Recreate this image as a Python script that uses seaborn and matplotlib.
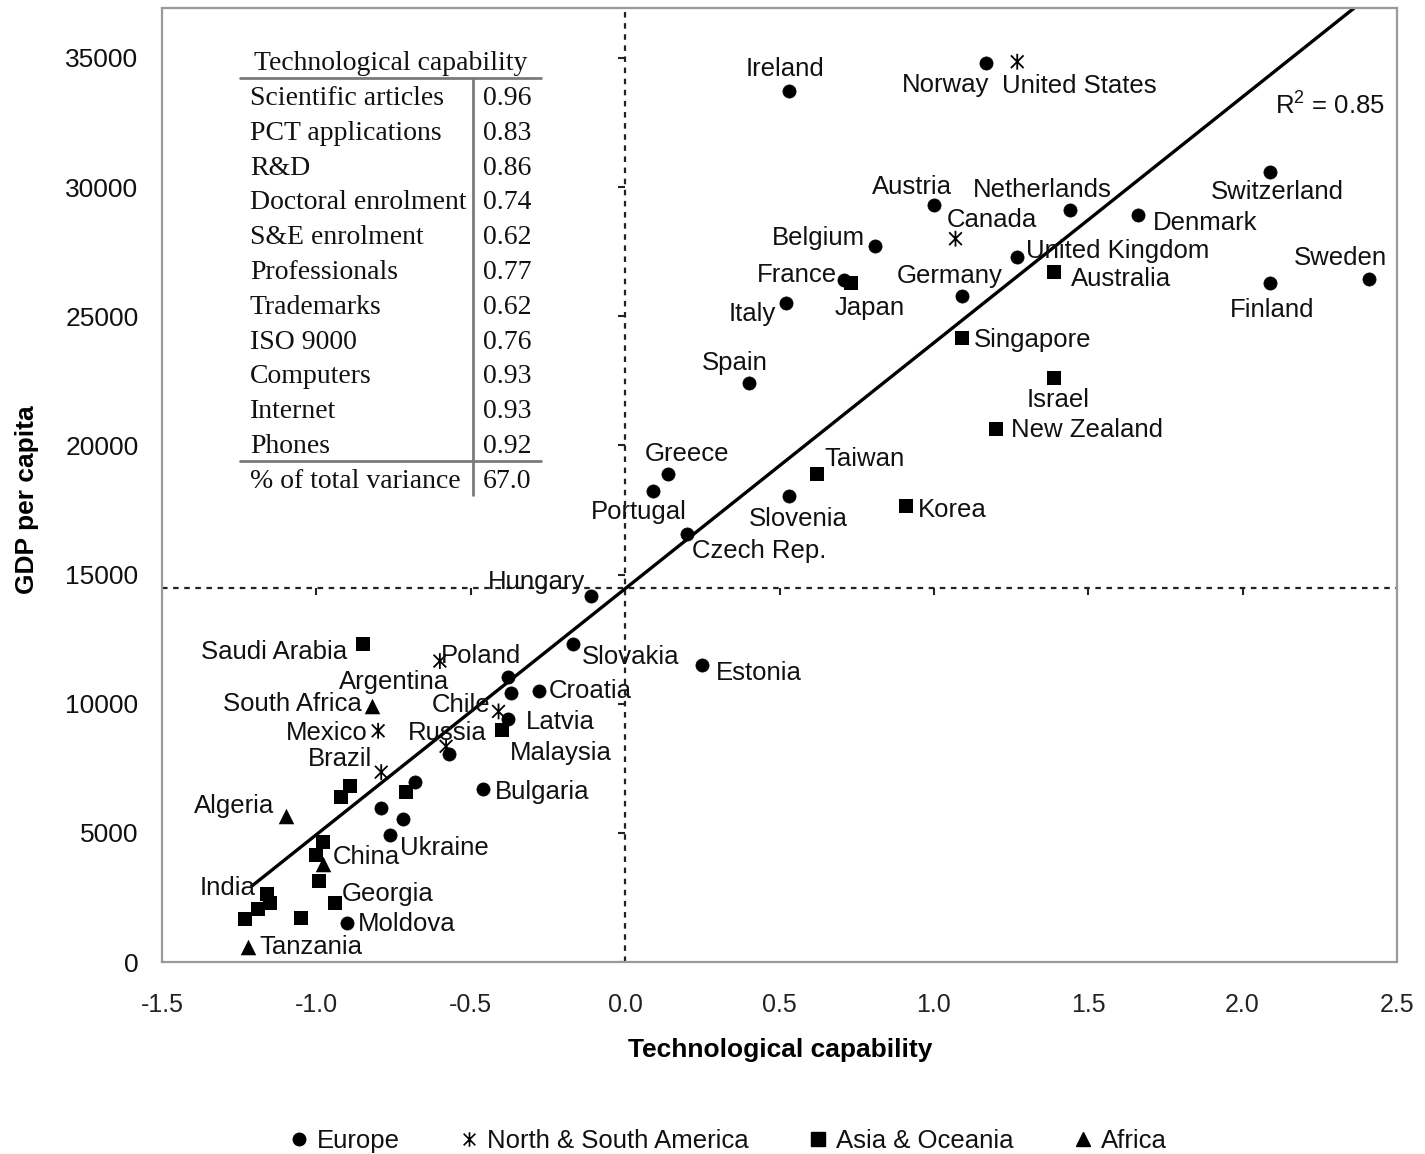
import numpy as np
import pandas as pd
import matplotlib
matplotlib.use("Agg")
import matplotlib.pyplot as plt
from matplotlib.lines import Line2D
from matplotlib.path import Path
import seaborn as sns

# ---------------------------------------------------------------- data
europe_names = ["Ireland", "Norway", "Austria", "Netherlands", "Denmark", "Switzerland",
                "Belgium", "United Kingdom", "France", "Germany", "Italy", "Finland",
                "Sweden", "Spain", "Greece", "Portugal", "Slovenia", "Czech Rep.",
                "Hungary", "Slovakia", "Estonia", "Poland", "Croatia", "", "Latvia",
                "Russia", "Bulgaria", "", "", "", "Ukraine", "Moldova"]
europe_tech = [0.53, 1.17, 1.00, 1.44, 1.66, 2.09, 0.81, 1.27, 0.71, 1.09, 0.52, 2.09,
               2.41, 0.40, 0.14, 0.09, 0.53, 0.20, -0.11, -0.17, 0.25, -0.38, -0.28,
               -0.37, -0.38, -0.57, -0.46, -0.68, -0.79, -0.72, -0.76, -0.90]
europe_gdp = [33700, 34800, 29300, 29100, 28900, 30600, 27700, 27300, 26400, 25800,
              25500, 26300, 26450, 22400, 18900, 18250, 18050, 16550, 14150, 12300,
              11500, 11050, 10500, 10400, 9400, 8050, 6700, 6950, 5950, 5550, 4900, 1500]

america_names = ["United States", "Canada", "Argentina", "Chile", "Mexico", "Brazil", ""]
america_tech = [1.27, 1.07, -0.60, -0.41, -0.80, -0.79, -0.58]
america_gdp = [34850, 28000, 11650, 9700, 8950, 7350, 8350]

asia_names = ["Japan", "Australia", "Singapore", "Israel", "New Zealand", "Taiwan",
              "Korea", "Saudi Arabia", "Malaysia", "", "", "", "China", "", "",
              "Georgia", "", "India", "", "", ""]
asia_tech = [0.73, 1.39, 1.09, 1.39, 1.20, 0.62, 0.91, -0.85, -0.40, -0.89, -0.92,
             -0.71, -0.98, -1.00, -0.99, -0.94, -1.05, -1.16, -1.15, -1.19, -1.23]
asia_gdp = [26300, 26700, 24150, 22600, 20650, 18900, 17650, 12300, 9000, 6800, 6400,
            6600, 4650, 4150, 3150, 2300, 1700, 2650, 2300, 2050, 1650]

africa_names = ["South Africa", "Algeria", "", "Tanzania"]
africa_tech = [-0.82, -1.10, -0.98, -1.22]
africa_gdp = [9900, 5650, 3800, 600]

region_names = ["Europe", "North & South America", "Asia & Oceania", "Africa"]

# linear fit of GDP on technological capability
fit_intercept = 14450
fit_slope = 9520
fit_r2 = 0.85
gdp_mean = 14480

x_ticks = [-1.5, -1.0, -0.5, 0.0, 0.5, 1.0, 1.5, 2.0, 2.5]
y_ticks = [0, 5000, 10000, 15000, 20000, 25000, 30000, 35000]

table_items = ["Scientific articles", "PCT applications", "R&D", "Doctoral enrolment",
               "S&E enrolment", "Professionals", "Trademarks", "ISO 9000",
               "Computers", "Internet", "Phones"]
table_loadings = ["0.96", "0.83", "0.86", "0.74", "0.62", "0.77", "0.62", "0.76",
                  "0.93", "0.93", "0.92"]
variance_label = "% of total variance"
variance_value = "67.0"

df = pd.concat([
    pd.DataFrame({"country": europe_names, "tech": europe_tech, "gdp": europe_gdp,
                  "region": region_names[0]}),
    pd.DataFrame({"country": america_names, "tech": america_tech, "gdp": america_gdp,
                  "region": region_names[1]}),
    pd.DataFrame({"country": asia_names, "tech": asia_tech, "gdp": asia_gdp,
                  "region": region_names[2]}),
    pd.DataFrame({"country": africa_names, "tech": africa_tech, "gdp": africa_gdp,
                  "region": region_names[3]}),
], ignore_index=True)

# ---------------------------------------------------------------- style
sns.set_theme(style="white")
plt.rcParams["font.family"] = ["Liberation Sans", "DejaVu Sans"]
plt.rcParams["mathtext.fontset"] = "custom"
plt.rcParams["mathtext.rm"] = "Liberation Sans"
plt.rcParams["mathtext.it"] = "Liberation Sans:italic"

W, H = 1425, 1154
fig = plt.figure(figsize=(W / 100, H / 100), dpi=100)
ax = fig.add_axes([162 / W, 1 - 962 / H, (1397 - 162) / W, (962 - 8) / H])

star = Path([(0, -1), (0, 1), (-0.8, -0.8), (0.8, 0.8), (-0.8, 0.8), (0.8, -0.8)],
            [Path.MOVETO, Path.LINETO, Path.MOVETO, Path.LINETO, Path.MOVETO, Path.LINETO])

marker_style = {
    "Europe": dict(marker="o", s=90, color="black", edgecolor="black", linewidth=0.5),
    "North & South America": dict(marker=star, s=130, facecolor="none",
                                  edgecolor="black", linewidth=1.3),
    "Asia & Oceania": dict(marker="s", s=115, color="black", edgecolor="black", linewidth=0),
    "Africa": dict(marker="^", s=125, color="black", edgecolor="black", linewidth=0),
}

# regression line
xfit = np.array([-1.21, 2.6])
ax.plot(xfit, fit_intercept + fit_slope * xfit, color="black", lw=2.4, zorder=2)

for reg in region_names:
    sns.scatterplot(data=df[df.region == reg], x="tech", y="gdp", ax=ax, zorder=3,
                    legend=False, **marker_style[reg])

# axes crossing at (0, mean GDP)
ax.axvline(0, color="#222222", lw=1.6, ls=(0, (2.5, 2.5)), zorder=1)
ax.axhline(gdp_mean, color="#222222", lw=1.6, ls=(0, (2.5, 2.5)), zorder=1)
ax.plot(x_ticks, [gdp_mean] * len(x_ticks), ls="none", marker=3, ms=5,
        mew=1.5, color="#222222", zorder=1)
ax.plot([0] * len(y_ticks), y_ticks, ls="none", marker=0, ms=5,
        mew=1.5, color="#222222", zorder=1)

ax.set_xlim(-1.5, 2.5)
ax.set_ylim(0, 36930)
ax.set_xticks(x_ticks)
ax.set_xticklabels([f"{v:.1f}" for v in x_ticks])
ax.set_yticks(y_ticks)
ax.set_yticklabels([str(v) for v in y_ticks])
ax.tick_params(axis="x", length=0, pad=22, labelsize=18, labelcolor="#222222")
ax.tick_params(axis="y", length=0, pad=17, labelsize=19, labelcolor="#111111")
for sp in ax.spines.values():
    sp.set_color("#9a9a9a")
    sp.set_linewidth(1.6)

ax.set_xlabel("Technological capability", fontsize=19, fontweight="bold", color="black")
ax.set_ylabel("GDP per capita", fontsize=19, fontweight="bold", color="black")
ax.xaxis.set_label_coords((780 - 162) / 1235, (962 - 1038) / 954)
ax.yaxis.set_label_coords((39 - 162) / 1235, (962 - 500) / 954)

# country labels: offset in pixels (dx, dy downward) and horizontal alignment
label_pos = {
    "Ireland": (-4, -24, "center"), "Norway": (3, 20, "right"),
    "United States": (-15, 22, "left"), "Austria": (-22, -20, "center"),
    "Netherlands": (-27, -22, "center"), "Canada": (36, -21, "center"),
    "Switzerland": (7, 18, "center"), "Denmark": (15, 6, "left"),
    "Belgium": (-10, -10, "right"), "United Kingdom": (9, -8, "left"),
    "France": (-7, -7, "right"), "Germany": (-12, -22, "center"),
    "Australia": (17, 5, "left"), "Sweden": (-29, -23, "center"),
    "Finland": (2, 25, "center"), "Italy": (-10, 9, "right"),
    "Japan": (19, 23, "center"), "Singapore": (12, 0, "left"),
    "Spain": (-14, -22, "center"), "Israel": (4, 20, "center"),
    "New Zealand": (15, -1, "left"), "Greece": (19, -22, "center"),
    "Taiwan": (8, -17, "left"), "Portugal": (-14, 19, "center"),
    "Slovenia": (10, 21, "center"), "Korea": (12, 2, "left"),
    "Czech Rep.": (5, 15, "left"), "Hungary": (-6, -16, "right"),
    "Saudi Arabia": (-16, 6, "right"), "Poland": (-27, -23, "center"),
    "Slovakia": (9, 11, "left"), "Estonia": (14, 6, "left"),
    "Argentina": (-46, 19, "center"), "Croatia": (10, -2, "left"),
    "South Africa": (-10, -4, "right"), "Chile": (-8, -8, "right"),
    "Latvia": (18, 1, "left"), "Mexico": (-11, 0, "right"),
    "Russia": (-2, -23, "center"), "Malaysia": (8, 21, "left"),
    "Brazil": (-9, -15, "right"), "Bulgaria": (12, 1, "left"),
    "Algeria": (-11, -12, "right"), "Ukraine": (10, 11, "left"),
    "China": (10, 13, "left"), "India": (-11, -8, "right"),
    "Georgia": (7, -11, "left"), "Moldova": (11, -1, "left"),
    "Tanzania": (11, -2, "left"),
}
for _, row in df.iterrows():
    if row.country in label_pos:
        dx, dy, ha = label_pos[row.country]
        ax.annotate(row.country, (row.tech, row.gdp), xytext=(dx, -(dy + 2)),
                    textcoords="offset pixels", ha=ha, va="center",
                    fontsize=18.5, color="#111111", zorder=4)

ax.text(1385 / W, 1 - 106 / H, rf"R$^{{2}}$ = {fit_r2:.2f}", transform=fig.transFigure,
        ha="right", va="center", fontsize=18.5, color="#111111")

# loadings table
def fx(px):
    return px / W

def fy(py):
    return 1 - py / H

serif = dict(family=["Liberation Serif", "DejaVu Serif"], fontsize=20, color="#111111")
fig.text(fx(391), fy(64), "Technological capability", ha="center", va="center", **serif)
row_y = [98.5 + 34.8 * i for i in range(len(table_items))]
for item, val, yy in zip(table_items, table_loadings, row_y):
    fig.text(fx(250), fy(yy), item, ha="left", va="center", **serif)
    fig.text(fx(483), fy(yy), val, ha="left", va="center", **serif)
fig.text(fx(250), fy(481), variance_label, ha="left", va="center", **serif)
fig.text(fx(483), fy(481), variance_value, ha="left", va="center", **serif)
rule = dict(color="#7a7a7a", lw=2.0, transform=fig.transFigure)
fig.add_artist(Line2D([fx(240), fx(541)], [fy(78), fy(78)], **rule))
fig.add_artist(Line2D([fx(240), fx(541)], [fy(461), fy(461)], **rule))
fig.add_artist(Line2D([fx(473), fx(473)], [fy(78), fy(495)], **rule))

# legend below the plot
handles = [
    Line2D([], [], ls="none", marker="o", ms=9, color="black"),
    Line2D([], [], ls="none", marker=star, ms=10.5, mew=1.2, color="black", mfc="none"),
    Line2D([], [], ls="none", marker="s", ms=9.5, color="black"),
    Line2D([], [], ls="none", marker="^", ms=10.5, color="black"),
]
fig.legend(handles, region_names, loc="center", bbox_to_anchor=(728 / W, 1 - 1141 / H),
           ncol=4, frameon=False, fontsize=18.5, handlelength=0.8, handletextpad=0.3,
           columnspacing=2.3, borderpad=0, labelcolor="#111111")

fig.savefig("out.png", dpi=100, facecolor="white")
